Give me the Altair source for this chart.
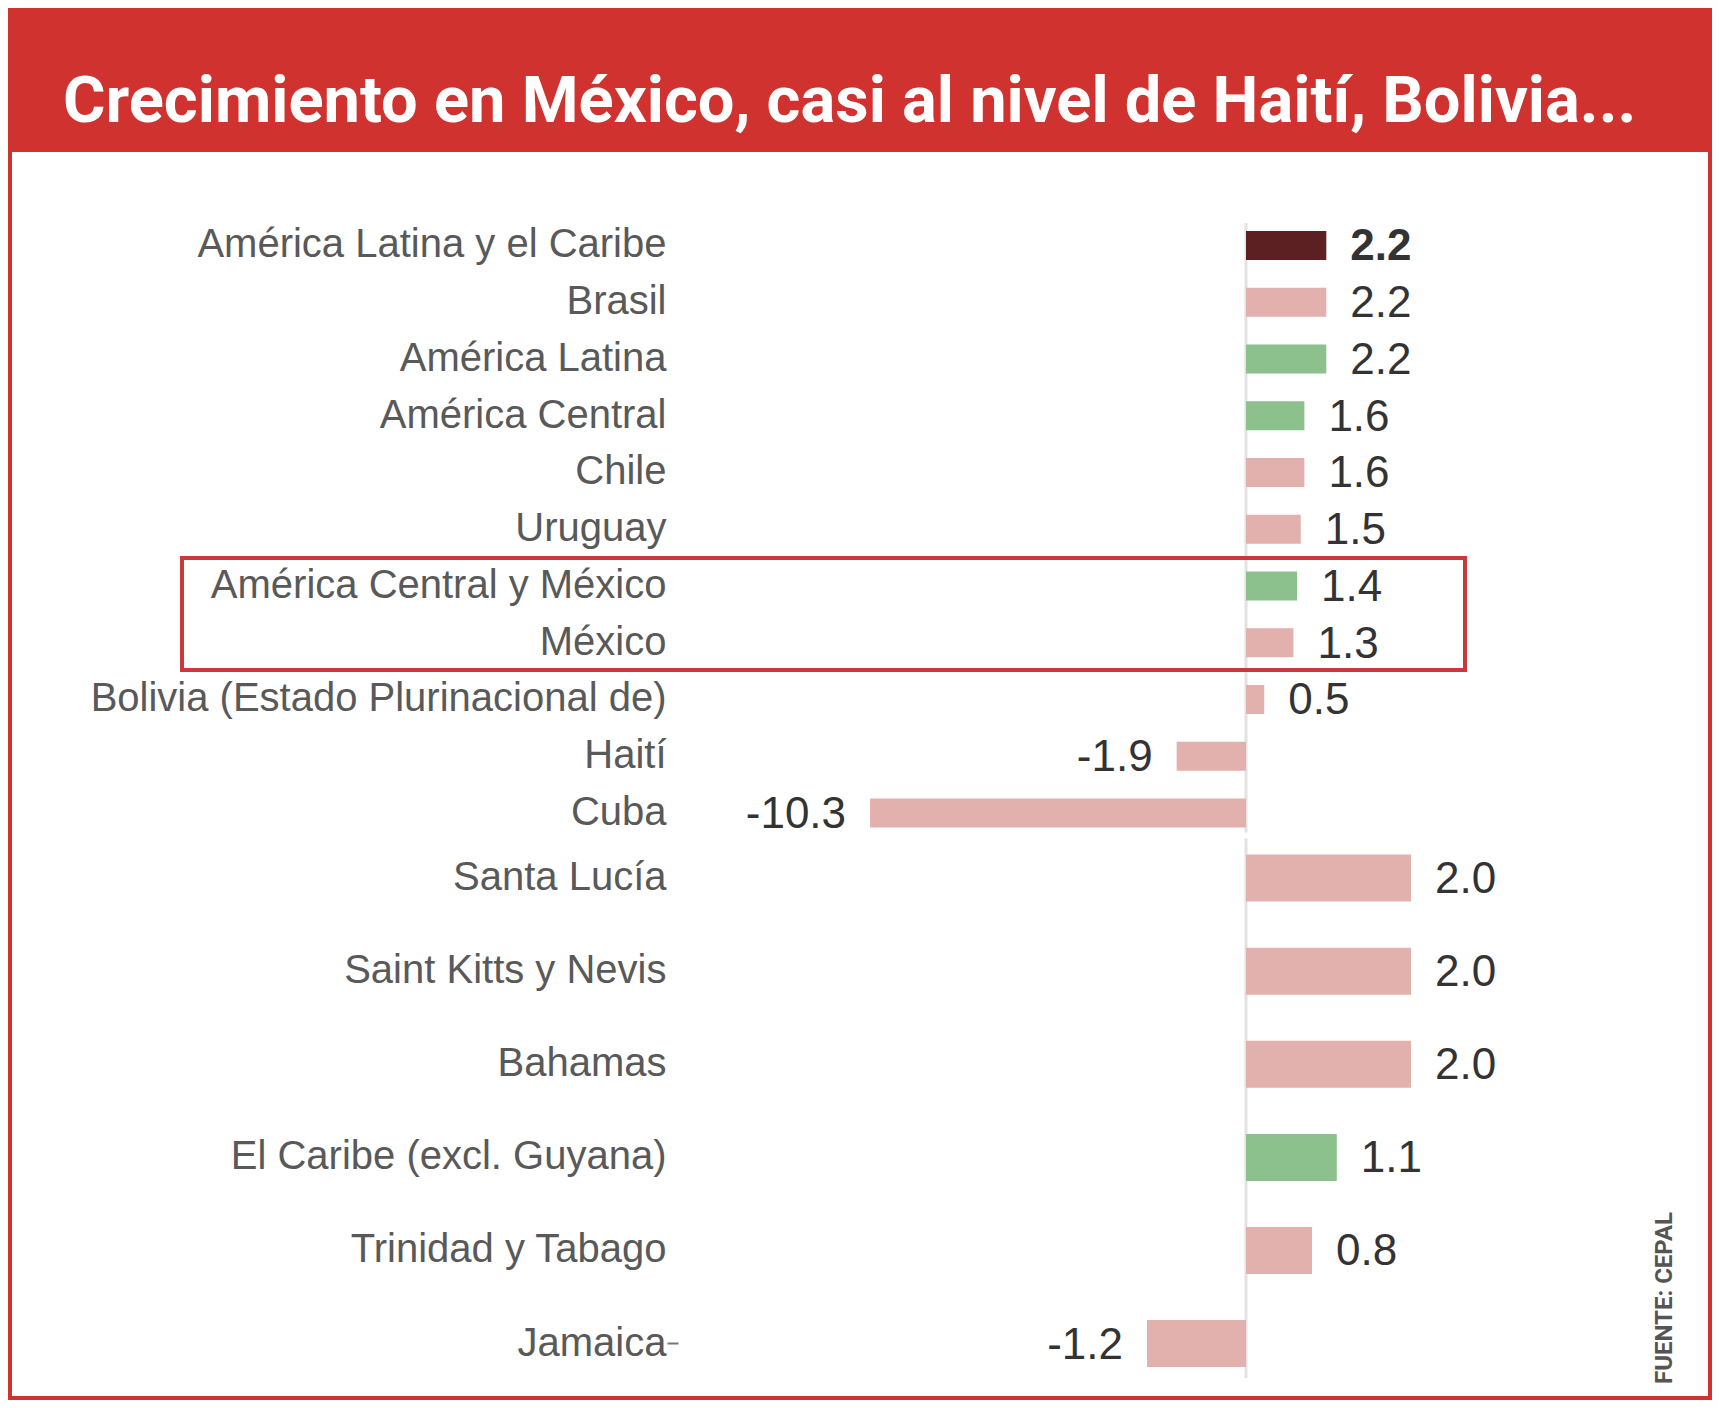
import pandas as pd
import altair as alt

# textos
titulo = "Crecimiento en México, casi al nivel de Haití, Bolivia..."
fuente = "FUENTE: CEPAL"

# bloque superior (regiones y países grandes)
paises_arriba = ["América Latina y el Caribe", "Brasil", "América Latina", "América Central",
                 "Chile", "Uruguay", "América Central y México", "México",
                 "Bolivia (Estado Plurinacional de)", "Haití", "Cuba"]
valores_arriba = [2.2, 2.2, 2.2, 1.6, 1.6, 1.5, 1.4, 1.3, 0.5, -1.9, -10.3]
tipo_arriba = ["total", "país", "región", "región", "país", "país", "región", "país",
               "país", "país", "país"]

# bloque inferior (El Caribe)
paises_abajo = ["Santa Lucía", "Saint Kitts y Nevis", "Bahamas", "El Caribe (excl. Guyana)",
                "Trinidad y Tabago", "Jamaica"]
valores_abajo = [2.0, 2.0, 2.0, 1.1, 0.8, -1.2]
tipo_abajo = ["país", "país", "país", "región", "país", "país"]

resaltados = ["América Central y México", "México"]

tipos = ["total", "región", "país"]
colores = ["#5c2022", "#8cc08d", "#e2b1ae"]

ROJO = "#d0332f"
ANCHO = 1696


def tabla(paises, valores, tipo):
    df = pd.DataFrame({"pais": paises, "valor": valores, "tipo": tipo})
    df["etiqueta"] = [f"{v:.1f}" for v in valores]
    return df


def panel(paises, valores, tipo, dominio_x, alto, p_in, p_out, alinear,
          linea_off, eje, extra=None):
    df = tabla(paises, valores, tipo)
    escala_x = alt.Scale(domain=dominio_x, nice=False, zero=False)
    escala_y = alt.Scale(domain=paises, paddingInner=p_in, paddingOuter=p_out, align=alinear)
    y = alt.Y("pais:N", scale=escala_y, axis=eje, title=None)

    barras = alt.Chart(df).mark_bar().encode(
        x=alt.X("valor:Q", scale=escala_x, axis=None),
        y=y,
        color=alt.Color("tipo:N", scale=alt.Scale(domain=tipos, range=colores), legend=None),
    )

    texto = dict(font="Liberation Sans", fontSize=44, color="#333333", baseline="middle", dy=2)
    pos = alt.Chart(df).transform_filter("datum.valor >= 0 && datum.tipo != 'total'").mark_text(
        align="left", dx=24, **texto).encode(x="valor:Q", y=y, text="etiqueta:N")
    neg = alt.Chart(df).transform_filter("datum.valor < 0").mark_text(
        align="right", dx=-24, **texto).encode(x="valor:Q", y=y, text="etiqueta:N")
    negrita = alt.Chart(df).transform_filter("datum.tipo == 'total'").mark_text(
        align="left", dx=24, fontWeight="bold", **texto).encode(x="valor:Q", y=y, text="etiqueta:N")

    linea_df = pd.DataFrame({"desde": [paises[0]], "hasta": [paises[-1]], "cero": [0]})
    linea = alt.Chart(linea_df).mark_rule(
        color="#e2e2e2", strokeWidth=3, yOffset=linea_off[0], y2Offset=linea_off[1]
    ).encode(
        x=alt.X("cero:Q", scale=escala_x, axis=None),
        y=alt.Y("desde:N", scale=escala_y, axis=eje, title=None, bandPosition=0),
        y2=alt.Y2("hasta:N", bandPosition=1),
    )

    capas = [linea, barras, pos, neg, negrita]
    if extra is not None:
        capas += extra(escala_y, eje)
    return alt.layer(*capas).properties(width=ANCHO, height=alto)


def caja(escala_y, eje):
    caja_df = pd.DataFrame({"desde": [resaltados[0]], "hasta": [resaltados[-1]]})
    return [alt.Chart(caja_df).mark_rect(
        filled=False, stroke="#c9383b", strokeWidth=4, yOffset=-13.5, y2Offset=12.75
    ).encode(
        x=alt.value(170), x2=alt.value(1453),
        y=alt.Y("desde:N", scale=escala_y, axis=eje, title=None, bandPosition=0),
        y2=alt.Y2("hasta:N", bandPosition=1),
    )]


def nota(escala_y, eje):
    return [alt.Chart(pd.DataFrame({"t": [fuente]})).mark_text(
        angle=270, font="Roboto", fontWeight="bold", fontSize=24,
        color="#555555", align="center", baseline="middle"
    ).encode(text="t:N", x=alt.value(1653), y=alt.value(463))]


etiquetas = dict(title=None, orient="left", domain=False, grid=False,
                 labelFont="Liberation Sans", labelFontSize=40, labelColor="#595959",
                 labelLimit=1000)

eje_arriba = alt.Axis(offset=-666, ticks=False, tickSize=0, labelPadding=12, **etiquetas)
eje_abajo = alt.Axis(offset=-666, ticks=True, tickSize=11, tickWidth=2, tickColor="#777777",
                     tickOpacity=alt.expr("datum.value == 'Jamaica' ? 1 : 0"),
                     labelPadding=1, **etiquetas)

arriba = panel(paises_arriba, valores_arriba, tipo_arriba, [-1234 / 36.5, 462 / 36.5],
               683, 0.489, 0.762, 0.913, (-8, 5), eje_arriba, extra=caja)
abajo = panel(paises_abajo, valores_abajo, tipo_abajo, [-1234 / 82.5, 462 / 82.5],
              561, 0.495, 0.2605, 0.404, (-16, 11), eje_abajo, extra=nota)

chart = alt.vconcat(
    arriba, abajo, spacing=0, bounds="flush",
    title=alt.TitleParams(titulo, font="Roboto", fontSize=65, fontWeight="bold",
                          color="white", anchor="start", dx=51, offset=16, baseline="top"),
).properties(
    padding={"top": 62, "left": 4, "right": 4, "bottom": 4},
    background=ROJO,
).configure_view(fill="white", stroke=None)

chart.save("out.html", embed_options={"renderer": "svg", "actions": False})
